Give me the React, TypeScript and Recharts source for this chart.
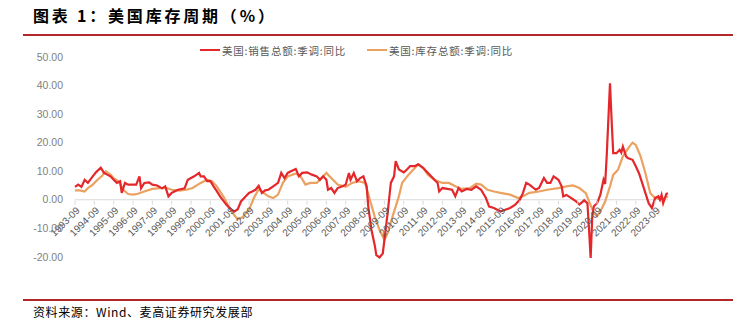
import React from 'react';
import { LineChart, Line, XAxis, YAxis, ReferenceLine } from 'recharts';

// ---- data ----
const salesDates = [
  '1993-09','1993-11','1994-01','1994-03','1994-05','1994-08','1994-10','1995-01','1995-03','1995-05','1995-07','1995-09','1995-11',
  '1996-01','1996-02','1996-04','1996-06','1996-09','1996-11','1997-01','1997-02','1997-04','1997-07','1997-09','1997-12',
  '1998-03','1998-05','1998-07','1998-09','1998-11','1999-01','1999-05','1999-07','1999-09','1999-11','2000-02','2000-03',
  '2000-05','2000-07','2000-09','2000-11','2001-01','2001-03','2001-07','2001-10','2001-12','2002-02','2002-04','2002-07',
  '2002-09','2002-11','2003-01','2003-03','2003-05','2003-07','2003-09','2003-12','2004-03','2004-05','2004-07','2004-09',
  '2004-11','2005-02','2005-04','2005-06','2005-09','2005-12','2006-03','2006-05','2006-07','2006-09','2006-10','2006-12',
  '2007-02','2007-04','2007-07','2007-09','2007-11','2007-12','2008-02','2008-04','2008-06','2008-08','2008-10','2008-11',
  '2009-01','2009-03','2009-04','2009-06','2009-08','2009-09','2009-11','2010-01','2010-03','2010-04','2010-06','2010-09',
  '2010-11','2011-01','2011-04','2011-06','2011-09','2011-11','2012-02','2012-06','2012-07','2012-09','2012-12','2013-03',
  '2013-05','2013-07','2013-09','2013-12','2014-03','2014-06','2014-09','2014-12','2015-02','2015-05','2015-09','2015-12',
  '2016-03','2016-06','2016-09','2016-11','2017-01','2017-03','2017-07','2017-09','2017-12','2018-02','2018-04','2018-06',
  '2018-09','2018-11','2018-12','2019-02','2019-05','2019-08','2019-10','2020-01','2020-03','2020-04','2020-05','2020-06',
  '2020-07','2020-09','2020-11','2021-01','2021-02','2021-03','2021-05','2021-06','2021-07','2021-09','2021-11','2021-12',
  '2022-01','2022-03','2022-04','2022-07','2022-09','2022-11','2023-01','2023-03','2023-05','2023-07','2023-09','2023-11',
  '2023-12','2024-01','2024-02','2024-04','2024-05',
];
const salesValues = [
  4.5,5.3,4.5,7.0,5.9,8.2,9.6,11.2,9.4,8.8,8.2,7.0,5.9,
  6.5,2.4,5.9,5.3,5.3,5.3,8.2,4.0,5.9,6.1,5.3,5.0,
  4.0,4.7,1.2,2.4,3.0,3.5,4.0,7.0,7.6,8.2,9.4,8.2,
  8.2,6.5,6.5,4.7,3.0,1.2,-1.8,-3.5,-4.1,-3.3,-0.6,1.2,
  2.4,2.9,3.5,4.9,2.4,3.3,3.5,4.7,5.9,9.4,7.6,9.4,
  10.0,10.8,8.2,9.4,9.6,8.8,8.2,7.0,8.2,7.0,3.5,4.1,
  2.4,4.1,4.7,5.3,9.4,7.0,9.4,6.5,7.6,8.2,4.7,-2.4,
  -10.6,-15.9,-19.4,-20.2,-18.8,-14.1,-4.7,5.9,8.2,13.5,10.6,9.6,
  10.6,11.8,11.8,12.4,11.2,10.0,8.2,5.9,2.9,4.1,3.8,3.5,
  1.2,4.1,2.9,3.8,3.5,4.7,3.5,0.6,-2.4,-2.9,-4.1,-3.5,
  -2.9,-1.8,0.0,2.4,5.9,5.3,3.5,4.1,7.6,5.9,5.9,8.2,
  7.0,4.7,1.2,1.7,0.6,-0.6,-1.7,-0.2,-1.2,-10.5,-20.4,-5.8,
  -2.3,-1.2,1.7,7.0,5.5,15.7,40.8,28.0,16.3,16.3,17.5,16.5,
  18.6,15.2,14.6,14.0,11.7,9.3,5.8,2.3,-1.2,-2.9,0.6,1.2,
  0.0,1.7,-1.2,2.1,2.3,
];

const inventoryDates = [
  '1993-09','1993-12','1994-03','1994-05','1994-08','1994-11','1995-02','1995-04','1995-07','1995-09','1995-12','1996-03',
  '1996-06','1996-09','1996-12','1997-04','1997-09','1998-02','1998-06','1998-09','1999-02','1999-06','1999-10','2000-03',
  '2000-07','2000-10','2001-01','2001-05','2001-09','2001-12','2002-02','2002-05','2002-09','2002-12','2003-03','2003-06',
  '2003-09','2003-12','2004-03','2004-06','2004-09','2005-02','2005-05','2005-08','2005-11','2006-03','2006-06','2006-09',
  '2006-12','2007-04','2007-09','2008-01','2008-05','2008-09','2008-12','2009-03','2009-06','2009-09','2009-11','2010-02',
  '2010-04','2010-06','2010-08','2010-12','2011-03','2011-06','2011-09','2011-12','2012-04','2012-09','2013-01','2013-05',
  '2013-09','2014-02','2014-06','2014-09','2015-01','2015-05','2015-09','2016-03','2016-08','2016-11','2017-03','2017-09',
  '2018-02','2018-09','2019-02','2019-06','2019-10','2020-02','2020-04','2020-07','2020-09','2020-11','2021-02','2021-05',
  '2021-07','2021-10','2022-01','2022-05','2022-07','2022-09','2022-12','2023-03','2023-06','2023-09','2023-12','2024-03',
  '2024-05',
];
const inventoryValues = [
  3.3,3.3,2.9,4.1,5.3,7.0,8.5,10.0,8.8,7.6,6.5,3.5,
  2.0,1.8,2.1,2.9,3.8,4.1,4.1,3.5,3.2,3.5,4.1,5.9,
  7.0,6.5,4.7,1.2,-3.0,-5.5,-6.8,-6.1,-3.5,0.6,3.8,2.4,
  1.2,0.6,1.8,5.9,8.2,9.2,8.2,5.3,5.9,5.9,7.6,9.4,
  7.6,5.3,4.5,5.9,6.5,5.9,0.0,-5.9,-10.6,-14.1,-11.8,-6.0,
  -2.4,1.2,5.9,8.8,10.6,12.4,11.2,8.8,7.0,5.9,5.9,4.7,
  3.8,4.1,5.6,5.3,3.5,2.9,2.4,1.8,0.6,1.2,2.4,2.9,
  3.5,4.1,4.7,5.0,4.1,2.3,-0.6,-4.7,-5.8,-4.1,-0.6,4.7,
  8.7,10.5,15.2,18.6,20.0,19.2,15.2,9.3,2.3,0.6,0.2,0.6,
  1.2,
];

const yTicks = [-20, -10, 0, 10, 20, 30, 40, 50];
const tickYears = Array.from({ length: 31 }, (_, i) => 1993 + i);

const seriesNames = ['美国:销售总额:季调:同比', '美国:库存总额:季调:同比'];
const titleText = '图表 1：美国库存周期（%）';
const sourceText = '资料来源：Wind、麦高证券研究发展部';

// ---- helpers ----
const toMonthIndex = (d: string) => {
  const [y, m] = d.split('-').map(Number);
  return (y - 1993) * 12 + (m - 9);
};
const salesData = salesDates.map((d, i) => ({ t: toMonthIndex(d), v: salesValues[i] }));
const inventoryData = inventoryDates.map((d, i) => ({ t: toMonthIndex(d), v: inventoryValues[i] }));
const xTicks = tickYears.map((y) => toMonthIndex(`${y}-09`));
const X_MAX = toMonthIndex('2024-05');

const RED = '#E5262A';
const ORANGE = '#EBA160';
const W = 733;
const H = 324;
const MARGIN_TOP = 57;
const X_AXIS_H = 66;
const PLOT_H = H - MARGIN_TOP - X_AXIS_H;
const Y_MIN = -20;
const Y_MAX = 50;
const NUM_FONT = '"Liberation Sans", Arial, sans-serif';
const CJK_FONT = '"Noto Sans CJK SC", sans-serif';

const XTick = (props: any) => {
  const { x, y, payload } = props;
  const zeroY = y - (PLOT_H * (0 - Y_MIN)) / (Y_MAX - Y_MIN);
  const label = `${Math.round(1993 + payload.value / 12)}-09`;
  return (
    <g>
      <line x1={x} x2={x} y1={zeroY} y2={zeroY + 4} stroke="#d9d9d9" strokeWidth={1} />
      <text
        transform={`translate(${x + 3}, ${zeroY + 8}) rotate(-45)`}
        textAnchor="end"
        dy="0.35em"
        fontSize={10}
        fill="#595959"
        fontFamily={NUM_FONT}
      >
        {label}
      </text>
    </g>
  );
};

export default function App() {
  return (
    <div style={{ position: 'absolute', left: 0, top: 0, width: W, height: H, background: '#fff', overflow: 'hidden' }}>
      <div
        style={{
          position: 'absolute', left: 33, top: 5, fontSize: 16, fontWeight: 700, lineHeight: '20px',
          fontFamily: CJK_FONT, color: '#000', letterSpacing: 2.8, whiteSpace: 'nowrap',
        }}
      >
        {titleText}
      </div>
      <div style={{ position: 'absolute', left: 23, top: 34, width: W - 23, height: 2, background: '#B2282A' }} />

      <div style={{ position: 'absolute', left: 0, top: 0 }}>
        <LineChart width={W} height={H} margin={{ top: MARGIN_TOP, right: W - 668, bottom: 0, left: 0 }}>
          <XAxis
            type="number"
            dataKey="t"
            domain={[0, X_MAX]}
            ticks={xTicks}
            interval={0}
            height={X_AXIS_H}
            axisLine={false}
            tickLine={false}
            tickSize={0}
            tickMargin={0}
            tick={<XTick />}
            allowDuplicatedCategory={false}
          />
          <YAxis
            type="number"
            domain={[Y_MIN, Y_MAX]}
            ticks={yTicks}
            interval={0}
            width={75}
            axisLine={false}
            tickLine={false}
            tickSize={0}
            tickMargin={12}
            tickFormatter={(v: number) => v.toFixed(2)}
            tick={{ fill: '#7f7f7f', fontSize: 10.5, fontFamily: NUM_FONT }}
          />
          <ReferenceLine y={0} stroke="#d9d9d9" strokeWidth={1} />
          <Line
            data={inventoryData}
            dataKey="v"
            type="linear"
            stroke={ORANGE}
            strokeWidth={2.2}
            dot={false}
            activeDot={false}
            isAnimationActive={false}
            name={seriesNames[1]}
          />
          <Line
            data={salesData}
            dataKey="v"
            type="linear"
            stroke={RED}
            strokeWidth={2.2}
            dot={false}
            activeDot={false}
            isAnimationActive={false}
            name={seriesNames[0]}
          />
        </LineChart>
      </div>

      {/* legend */}
      <div style={{ position: 'absolute', left: 200, top: 43, height: 14, display: 'flex', alignItems: 'center', whiteSpace: 'nowrap' }}>
        <div style={{ width: 20, height: 2.5, background: RED, marginRight: 2 }} />
        <span style={{ fontSize: 10.5, color: '#595959', fontFamily: CJK_FONT, letterSpacing: 0.8 }}>{seriesNames[0]}</span>
      </div>
      <div style={{ position: 'absolute', left: 367, top: 43, height: 14, display: 'flex', alignItems: 'center', whiteSpace: 'nowrap' }}>
        <div style={{ width: 20, height: 2.5, background: ORANGE, marginRight: 2 }} />
        <span style={{ fontSize: 10.5, color: '#595959', fontFamily: CJK_FONT, letterSpacing: 0.8 }}>{seriesNames[1]}</span>
      </div>

      <div style={{ position: 'absolute', left: 23, top: 299, width: W - 23, height: 2, background: '#B2282A' }} />
      <div
        style={{
          position: 'absolute', left: 33, top: 304, fontSize: 12, lineHeight: '16px',
          fontFamily: CJK_FONT, color: '#000', letterSpacing: 0.6, whiteSpace: 'nowrap',
        }}
      >
        {sourceText}
      </div>
    </div>
  );
}
